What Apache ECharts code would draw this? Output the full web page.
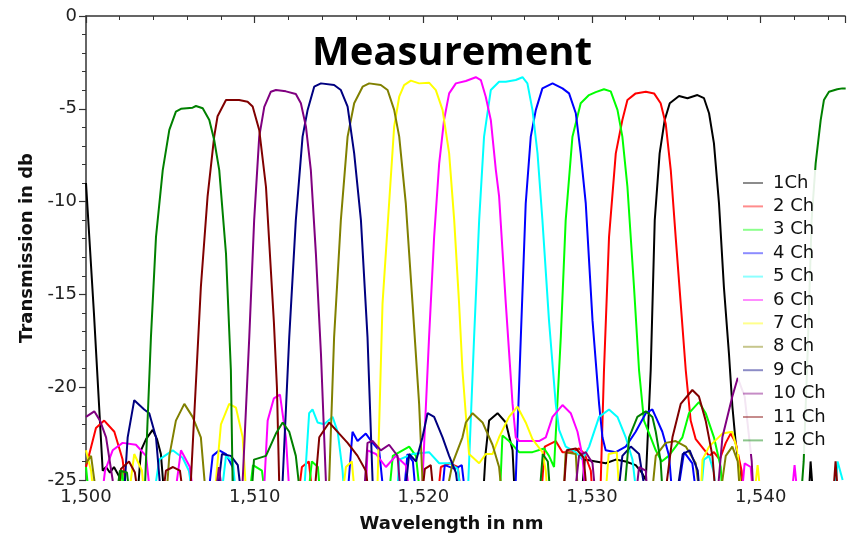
<!DOCTYPE html>
<html>
<head>
<meta charset="utf-8">
<script src="https://cdn.jsdelivr.net/npm/echarts@6/dist/echarts.min.js"></script>
<style>html,body{margin:0;padding:0;background:#fff;}#c{width:848px;height:540px;}</style>
</head>
<body>
<div id="c"></div>
<script>
var seriesNames = ['1Ch','2 Ch','3 Ch','4 Ch','5 Ch','6 Ch','7 Ch','8 Ch','9 Ch','10 Ch','11 Ch','12 Ch'];
var seriesColors = ['#000000','#ff0000','#00ff00','#0000ff','#00ffff','#ff00ff','#ffff00','#808000','#000080','#800080','#800000','#008000'];
var xTicks = [1500,1510,1520,1530,1540];

var ch1 = [[1500.0,-9.0],[1500.47,-16],[1500.99,-24.5],[1501.19,-24.3],[1501.42,-24.6],[1501.66,-24.3],[1501.96,-24.8],[1502.25,-27],
 [1502.96,-27],[1503.26,-23.4],[1503.56,-22.8],[1503.95,-22.3],[1504.21,-22.8],[1504.44,-23.6],[1504.74,-27],
 [1523.47,-27],[1523.70,-23.5],[1523.90,-21.8],[1524.40,-21.4],[1524.89,-21.9],[1525.29,-23.4],[1525.48,-27],
 [1529.27,-27],[1529.57,-23.9],[1530.22,-24.0],[1530.81,-24.1],[1531.41,-23.9],[1532.0,-24.0],[1532.59,-24.2],[1532.95,-24.6],
 [1533.19,-25],[1533.48,-19.1],[1533.72,-11],[1534.01,-7.4],[1534.31,-5.6],[1534.61,-4.7],[1535.16,-4.31],[1535.66,-4.43],[1536.25,-4.26],[1536.64,-4.43],[1536.94,-5.24],[1537.23,-6.86],[1537.53,-10.1],[1537.82,-14.6],[1538.12,-18.2],[1538.32,-21.0],[1538.52,-23],[1538.76,-24.5],[1539.05,-27],
 [1542.79,-27],[1542.96,-24.0],[1543.2,-27]];

var ch2 = [[1500.0,-24.3],[1500.59,-22.2],[1501.08,-21.8],[1501.68,-22.4],[1502.17,-23.9],[1502.57,-27],
 [1512.44,-27],[1512.80,-24.3],[1513.21,-24.0],[1513.57,-27],
 [1520.74,-27],[1521.04,-24.3],[1521.57,-24.1],[1522.04,-24.3],[1522.4,-27],
 [1526.9,-27],[1527.2,-23.2],[1527.85,-22.9],[1528.25,-23.5],[1528.84,-23.5],[1529.23,-23.3],[1529.57,-23.6],[1529.93,-24.5],[1530.12,-27],
 [1530.4,-27],[1530.52,-25],[1530.71,-19.1],[1531.01,-11.9],[1531.41,-7.4],[1531.8,-5.6],[1532.1,-4.53],[1532.59,-4.17],[1533.19,-4.08],[1533.68,-4.17],[1533.78,-4.2],[1534.07,-4.7],[1534.37,-5.8],[1534.67,-8.3],[1534.96,-11.9],[1535.26,-15.5],[1535.56,-19.1],[1535.85,-21.8],[1536.15,-22.8],[1536.94,-23.7],[1537.23,-23.5],[1537.57,-23.9],[1537.93,-23.0],[1538.22,-22.5],[1538.52,-23],[1538.87,-24.5],[1539.11,-27]];

var ch3 = [[1500.0,-24.3],[1500.3,-27],
 [1501.78,-27],[1502.13,-24.5],[1502.49,-27],
 [1509.54,-27],[1509.9,-24.2],[1510.43,-24.5],[1510.79,-27],
 [1513.04,-27],[1513.39,-24.0],[1513.75,-24.3],[1513.99,-27],
 [1517.84,-27],[1518.19,-23.7],[1518.77,-23.4],[1519.16,-23.2],[1519.56,-23.7],[1519.95,-27],
 [1524.49,-27],[1524.69,-22.6],[1525.08,-22.9],[1525.68,-23.5],[1526.47,-23.5],[1527.16,-23.3],[1527.45,-23.7],[1527.75,-24.3],[1527.94,-21],[1528.15,-17.3],[1528.44,-11.0],[1528.84,-6.5],[1529.33,-4.7],[1529.82,-4.26],[1530.22,-4.1],[1530.71,-3.95],[1531.11,-4.06],[1531.51,-5.06],[1531.8,-6.5],[1532.1,-9.2],[1532.49,-14.6],[1532.79,-19.1],[1533.08,-21.8],[1533.48,-22.7],[1533.78,-23.4],[1534.13,-24.0],[1534.55,-23.7],[1534.96,-23.2],[1535.36,-22.7],[1535.75,-21.4],[1536.34,-20.8],[1536.74,-21.4],[1537.23,-22.7],[1537.63,-24.3],[1537.81,-27]];

var ch4 = [[1507.11,-27],[1507.51,-23.7],[1507.9,-23.4],[1508.3,-23.6],[1508.69,-24.3],[1509.0,-27],
 [1515.41,-27],[1515.8,-22.4],[1516.1,-22.9],[1516.59,-22.5],[1516.99,-23.0],[1517.38,-23.4],[1517.78,-27],
 [1518.73,-27],[1519.06,-23.6],[1519.38,-24.0],[1519.67,-27],
 [1520.98,-27],[1521.27,-24.2],[1521.87,-24.4],[1522.28,-24.2],[1522.64,-27],
 [1525.36,-27],[1525.48,-25],[1525.78,-17.3],[1526.07,-10.1],[1526.37,-6.5],[1526.67,-5.06],[1527.06,-3.9],[1527.66,-3.63],[1528.25,-3.9],[1528.64,-4.17],[1529.04,-5.24],[1529.33,-7.4],[1529.63,-10.1],[1530.03,-16.4],[1530.42,-20.9],[1530.62,-22.7],[1530.81,-23.4],[1531.41,-23.5],[1532.0,-23.2],[1532.59,-22.4],[1533.19,-21.4],[1533.58,-21.2],[1533.78,-21.6],[1534.17,-22.4],[1534.57,-23.7],[1534.86,-27],
 [1534.96,-27],[1535.46,-23.5],[1535.95,-24.1],[1536.34,-27]];

var ch5 = [[1503.85,-27],[1504.34,-23.9],[1505.14,-23.4],[1505.73,-23.8],[1506.1,-24.5],[1506.52,-27],
 [1507.88,-27],[1508.3,-23.7],[1508.71,-24.0],[1509.0,-27],
 [1512.84,-27],[1513.23,-21.4],[1513.43,-21.2],[1513.73,-21.9],[1514.12,-22.0],[1514.62,-21.6],[1514.92,-22.4],[1515.21,-24.5],[1515.41,-27],
 [1518.37,-27],[1518.57,-23.9],[1519.36,-23.6],[1520.34,-23.5],[1520.94,-24.1],[1521.57,-24.1],[1522.04,-24.4],[1522.4,-27],
 [1522.58,-27],[1522.71,-24.1],[1523.01,-17.3],[1523.31,-11.0],[1523.6,-6.5],[1524.0,-3.99],[1524.49,-3.54],[1524.89,-3.54],[1525.48,-3.45],[1525.88,-3.3],[1526.17,-3.63],[1526.47,-5.06],[1526.77,-7.4],[1527.06,-11.0],[1527.45,-16.4],[1527.85,-20.9],[1528.05,-22.3],[1528.44,-23.2],[1529.04,-23.5],[1529.43,-23.9],[1529.83,-23.2],[1530.42,-21.6],[1531.01,-21.2],[1531.51,-21.6],[1532.0,-22.7],[1532.4,-23.9],[1532.79,-27],
 [1536.34,-27],[1536.64,-23.9],[1536.94,-23.7],[1537.23,-24.6],[1537.45,-27],
 [1544.27,-27],[1544.56,-24.0],[1544.86,-25.0]];

var ch6 = [[1500.79,-27],[1501.13,-24.5],[1501.58,-23.4],[1502.17,-23.0],[1502.96,-23.1],[1503.56,-23.7],[1503.95,-27],
 [1505.1,-27],[1505.63,-23.4],[1506.16,-24.3],[1506.52,-27],
 [1510.47,-27],[1510.77,-21.8],[1511.14,-20.6],[1511.5,-20.4],[1511.85,-22.7],[1512.15,-27],
 [1516.53,-27],[1516.69,-23.4],[1517.19,-23.6],[1517.78,-24.3],[1518.37,-23.7],[1518.96,-24.2],[1519.36,-27],
 [1519.79,-27],[1519.95,-25],[1520.34,-17.3],[1520.64,-11.9],[1520.94,-7.94],[1521.23,-5.6],[1521.53,-4.17],[1521.93,-3.63],[1522.52,-3.5],[1523.11,-3.3],[1523.41,-3.45],[1523.7,-4.35],[1524.0,-5.6],[1524.3,-8.3],[1524.49,-9.7],[1524.89,-15.5],[1525.29,-20.9],[1525.48,-22.7],[1525.68,-22.9],[1526.86,-22.9],[1527.26,-22.7],[1527.66,-21.6],[1528.25,-20.96],[1528.74,-21.4],[1529.14,-22.4],[1529.43,-23.7],[1529.73,-27],
 [1538.76,-27],[1539.05,-24.1],[1539.41,-24.3],[1539.64,-27],
 [1541.72,-27],[1542.01,-24.2],[1542.31,-27]];

var ch7 = [[1500.0,-23.4],[1500.3,-24.5],[1500.59,-27],
 [1502.37,-27],[1502.86,-23.6],[1503.32,-24.5],[1503.56,-27],
 [1507.51,-27],[1508.0,-22.0],[1508.49,-20.9],[1508.89,-21.1],[1509.29,-22.7],[1509.58,-27],
 [1515.05,-27],[1515.41,-24.3],[1515.76,-24.0],[1516.06,-27],
 [1517.19,-27],[1517.29,-25],[1517.58,-15.5],[1517.97,-10.1],[1518.27,-5.96],[1518.57,-4.35],[1518.86,-3.72],[1519.26,-3.48],[1519.75,-3.63],[1520.34,-3.59],[1520.74,-3.99],[1521.14,-5.06],[1521.53,-7.4],[1521.83,-11.0],[1522.12,-15.5],[1522.32,-19.1],[1522.52,-21.5],[1522.71,-23.6],[1523.31,-24.1],[1523.7,-23.6],[1524.1,-23.6],[1524.49,-22.7],[1525.08,-21.6],[1525.58,-21.05],[1526.07,-21.9],[1526.47,-22.8],[1527.06,-23.5],[1527.26,-24.5],[1527.45,-27],
 [1530.7,-27],[1530.99,-23.6],[1531.47,-23.5],[1531.7,-27],
 [1536.39,-27],[1536.55,-23.9],[1536.94,-23.2],[1537.73,-22.5],[1538.32,-22.4],[1538.64,-23.5],[1538.93,-27],
 [1539.47,-27],[1539.82,-24.2],[1540.12,-27]];

var ch8 = [[1500.0,-24.1],[1500.3,-23.7],[1500.79,-27],
 [1504.68,-27],[1504.94,-23.7],[1505.33,-21.8],[1505.83,-20.9],[1506.32,-21.6],[1506.81,-22.7],[1507.21,-27],
 [1514.28,-27],[1514.42,-25],[1514.71,-17.3],[1515.11,-11.0],[1515.51,-6.5],[1515.9,-4.7],[1516.4,-3.81],[1516.79,-3.63],[1517.48,-3.72],[1517.88,-3.99],[1518.27,-5.06],[1518.57,-6.5],[1518.96,-10.1],[1519.36,-15.5],[1519.75,-20.9],[1519.95,-25],[1520.03,-27],
 [1521.1,-27],[1521.73,-24.1],[1522.32,-22.7],[1522.52,-21.9],[1522.92,-21.4],[1523.51,-21.9],[1524.1,-23.1],[1524.49,-24.3],[1524.79,-27],
 [1528.25,-27],[1528.44,-23.5],[1529.04,-23.6],[1529.23,-27],
 [1533.42,-27],[1533.78,-23.7],[1534.37,-23.0],[1534.96,-22.9],[1535.56,-23.2],[1536.15,-24.1],[1536.55,-27],
 [1537.43,-27],[1537.93,-23.7],[1538.32,-23.2],[1538.64,-24],[1538.87,-27]];

var ch9 = [[1502.17,-27],[1502.47,-22.7],[1502.86,-20.7],[1503.45,-21.2],[1503.75,-21.4],[1504.15,-22.7],[1504.55,-27],
 [1507.64,-27],[1508.06,-23.6],[1508.59,-23.7],[1509.0,-24.2],[1509.36,-27],
 [1511.5,-27],[1511.66,-25],[1512.05,-17.3],[1512.44,-11.0],[1512.84,-6.5],[1513.14,-5.06],[1513.53,-3.81],[1513.93,-3.63],[1514.71,-3.72],[1515.11,-3.99],[1515.51,-4.88],[1515.9,-7.4],[1516.3,-11.0],[1516.69,-17.3],[1516.99,-25],[1517.07,-27],
 [1518.77,-27],[1519.16,-23.6],[1519.56,-24.0],[1519.95,-22.7],[1520.25,-21.4],[1520.64,-21.6],[1521.14,-22.7],[1521.53,-23.7],[1521.93,-24.6],[1522.28,-27],
 [1531.41,-27],[1531.8,-23.7],[1532.3,-23.2],[1532.79,-23.6],[1533.39,-27],
 [1534.84,-27],[1535.38,-23.6],[1535.79,-23.4],[1536.27,-24.5],[1536.5,-27]];

var ch10 = [[1500.0,-21.6],[1500.49,-21.3],[1500.83,-21.8],[1501.19,-22.7],[1501.58,-25],[1501.66,-27],
 [1507.53,-27],[1507.88,-24.3],[1508.24,-27],
 [1509.13,-27],[1509.29,-25],[1509.68,-17.3],[1509.97,-11.0],[1510.27,-6.5],[1510.57,-4.9],[1510.96,-4.08],[1511.26,-3.99],[1511.85,-4.06],[1512.44,-4.2],[1512.74,-4.7],[1513.04,-5.96],[1513.33,-8.3],[1513.63,-12.8],[1513.93,-18.2],[1514.22,-25],[1514.28,-27],
 [1516.4,-27],[1516.69,-23.0],[1516.99,-22.9],[1517.48,-23.4],[1517.97,-23.1],[1518.47,-23.7],[1518.77,-27],
 [1528.84,-27],[1529.23,-23.7],[1529.63,-23.5],[1530.03,-24.1],[1530.32,-27],
 [1532.47,-27],[1532.79,-24.3],[1533.19,-24.5],[1533.36,-27],
 [1537.33,-27],[1537.73,-22.7],[1538.32,-20.5],[1538.64,-19.5],[1539.05,-20.5],[1539.47,-24],[1539.64,-27]];

var ch11 = [[1501.78,-27],[1502.07,-24.4],[1502.55,-24.0],[1502.9,-24.6],[1503.26,-27],
 [1504.39,-27],[1504.74,-24.5],[1505.16,-24.3],[1505.57,-24.5],[1505.93,-27],
 [1506.04,-27],[1506.22,-25],[1506.81,-14.6],[1507.21,-9.7],[1507.6,-6.5],[1507.8,-5.4],[1508.3,-4.53],[1509.08,-4.53],[1509.58,-4.62],[1509.88,-4.88],[1510.27,-6.14],[1510.67,-9.2],[1510.96,-13.7],[1511.14,-16.5],[1511.32,-20],[1511.45,-25],[1511.56,-27],
 [1513.43,-27],[1513.83,-22.7],[1514.42,-21.9],[1515.01,-22.5],[1515.51,-23.0],[1516.1,-23.7],[1516.59,-24.5],[1516.95,-27],
 [1519.79,-27],[1520.09,-24.4],[1520.44,-24.2],[1520.74,-27],
 [1528.21,-27],[1528.5,-23.4],[1529.04,-23.3],[1529.51,-23.8],[1529.81,-27],
 [1534.17,-27],[1534.77,-22.7],[1535.26,-20.9],[1535.95,-20.15],[1536.34,-20.5],[1536.74,-21.8],[1537.14,-23.7],[1537.43,-27],
 [1544.21,-27],[1544.44,-24.0],[1544.68,-27]];

var ch12 = [[1501.66,-27],[1502.01,-24.5],[1502.43,-24.6],[1502.73,-27],
 [1503.38,-27],[1503.51,-25],[1503.85,-17.3],[1504.15,-11.9],[1504.55,-8.3],[1504.94,-6.14],[1505.33,-5.15],[1505.63,-5.0],[1506.32,-4.94],[1506.52,-4.85],[1506.92,-4.97],[1507.31,-5.6],[1507.6,-6.68],[1507.9,-8.3],[1508.3,-12.8],[1508.59,-19.1],[1508.69,-25],[1508.77,-27],
 [1509.72,-27],[1509.96,-23.9],[1510.67,-23.7],[1511.26,-22.5],[1511.66,-21.9],[1512.05,-22.4],[1512.44,-23.7],[1512.84,-27],
 [1526.79,-27],[1527.08,-23.6],[1527.38,-24.0],[1527.62,-27],
 [1531.8,-27],[1532.2,-22.7],[1532.69,-21.6],[1533.19,-21.3],[1533.58,-21.6],[1533.78,-22.4],[1534.07,-24],[1534.27,-27],
 [1542.31,-27],[1542.55,-24],[1542.79,-18],[1543.02,-11],[1543.26,-7.94],[1543.56,-5.6],[1543.75,-4.53],[1544.05,-4.08],[1544.54,-3.95],[1544.84,-3.9],[1545.04,-3.9]];

var channelData = [ch1,ch2,ch3,ch4,ch5,ch6,ch7,ch8,ch9,ch10,ch11,ch12];

var chart = echarts.init(document.getElementById('c'), null, {renderer:'canvas'});
var series = seriesNames.map(function(n,i){
  return {name:n,type:'line',data:channelData[i],showSymbol:false,symbol:'none',
    lineStyle:{width:2,color:seriesColors[i]},itemStyle:{color:seriesColors[i]},
    clip:true,animation:false,z:2};
});
function fmt(v){ if(xTicks.indexOf(v)<0) return ''; var s=String(v); return s.slice(0,1)+','+s.slice(1); }
chart.setOption({
  backgroundColor:'#ffffff',
  animation:false,
  title:{text:'Measurement',left:452,top:34,textAlign:'center',padding:0,
    textStyle:{fontFamily:'Open Sans',fontWeight:'bold',fontSize:40,color:'#000'}},
  grid:{left:86,right:3,top:16,bottom:60,containLabel:false},
  graphic:{elements:[{type:'rect',z:3,zlevel:0,silent:true,
    shape:{x:738,y:170,width:108,height:284},
    style:{fill:'rgba(255,255,255,0.9)',stroke:null}}]},
  legend:{orient:'vertical',left:738,top:170,data:seriesNames,icon:'rect',itemWidth:20,itemHeight:2,itemGap:5.4,
    padding:[4,4,5,5],z:5,
    itemStyle:{opacity:0.45},lineStyle:{opacity:0.45},
    textStyle:{fontFamily:'DejaVu Sans',fontSize:18,lineHeight:18,color:'#111',padding:[0,0,0,5]}},
  xAxis:{type:'value',min:1500,max:1545,interval:10,
    name:'Wavelength in nm',nameLocation:'middle',nameGap:35,
    nameTextStyle:{fontFamily:'DejaVu Sans',fontWeight:'bold',fontSize:18,color:'#111',padding:[0,28,0,0]},
    axisLine:{show:true,lineStyle:{color:'#333',width:1.5}},
    axisTick:{show:true,length:7,lineStyle:{color:'#333',width:1.2}},
    minorTick:{show:true,splitNumber:5,length:4,lineStyle:{color:'#333',width:1}},
    axisLabel:{fontFamily:'DejaVu Sans',fontSize:18,color:'#222',margin:8,formatter:fmt,showMaxLabel:false},
    splitLine:{show:false}},
  yAxis:{type:'value',min:-25,max:0,interval:5,
    name:'Transmission in db',nameLocation:'middle',nameGap:50,
    nameTextStyle:{fontFamily:'DejaVu Sans',fontWeight:'bold',fontSize:18,color:'#111'},
    axisLine:{show:true,lineStyle:{color:'#333',width:1.5}},
    axisTick:{show:true,length:7,lineStyle:{color:'#333',width:1.2}},
    minorTick:{show:true,splitNumber:5,length:4,lineStyle:{color:'#333',width:1}},
    axisLabel:{fontFamily:'DejaVu Sans',fontSize:18,color:'#222',margin:9},
    splitLine:{show:false}},
  series:series
});
</script>
</body>
</html>
